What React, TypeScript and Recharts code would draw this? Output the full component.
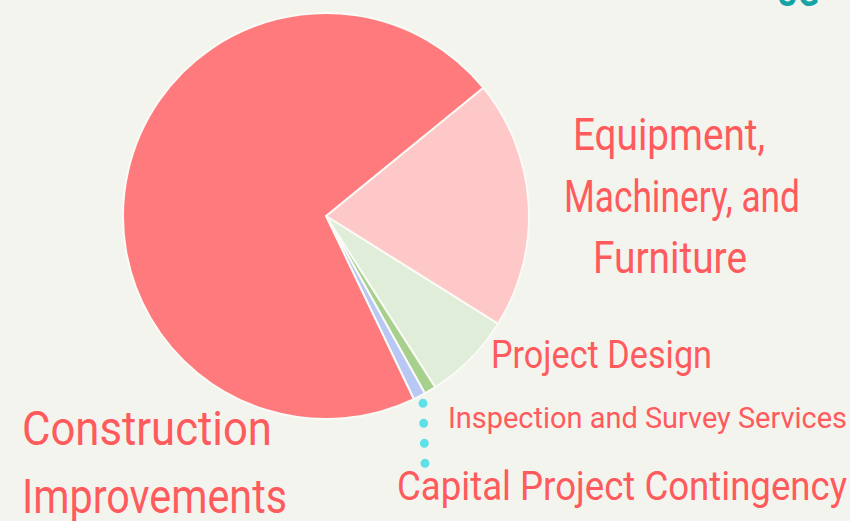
import React from 'react';
import { PieChart, Pie, Cell } from 'recharts';

const categories = [
  'Equipment, Machinery, and Furniture',
  'Project Design',
  'Inspection and Survey Services',
  'Capital Project Contingency',
  'Construction Improvements',
];
const values = [19.8, 7.05, 0.95, 0.97, 71.23];
const colors = ['#fec8c9', '#e0edd8', '#a7d08c', '#b8c7f3', '#ff7a7d'];

const labelLines: string[][] = [
  ['Equipment,', 'Machinery, and', 'Furniture'],
  ['Project Design'],
  ['Inspection and Survey Services'],
  ['Capital Project Contingency'],
  ['Construction', 'Improvements'],
];

const data = categories.map((name, i) => ({ name, value: values[i] }));

const TEXT = '#ff5a5c';
const FONT = 'Roboto, "Noto Sans", sans-serif';

// text placement: [x, baseline, fontSize, width]
const labelPlace: number[][][] = [
  [
    [573, 150, 45, 192],
    [564, 212, 45, 236],
    [593, 273, 45, 154],
  ],
  [[491, 368, 38, 221]],
  [[448, 428, 30, 399]],
  [[397, 500, 41, 450]],
  [
    [22, 445, 49, 250],
    [22, 513, 49, 265],
  ],
];

const RADIAN = Math.PI / 180;

const renderLabel = (props: any) => {
  const { index, cx, cy, midAngle, outerRadius } = props;
  const lines = labelLines[index];
  const place = labelPlace[index];
  let leader: React.ReactNode = null;
  if (index === 3) {
    const r = outerRadius + 8;
    const x0 = cx + r * Math.cos(-midAngle * RADIAN);
    const y0 = cy + r * Math.sin(-midAngle * RADIAN);
    leader = (
      <line
        x1={x0}
        y1={y0}
        x2={x0 + 2}
        y2={y0 + 61}
        stroke="#5de1e7"
        strokeWidth={9}
        strokeLinecap="round"
        strokeDasharray="0 20"
      />
    );
  }
  return (
    <g key={`lbl-${index}`}>
      {leader}
      {lines.map((t, i) => (
        <text
          key={i}
          x={place[i][0]}
          y={place[i][1]}
          fontSize={place[i][2]}
          textLength={place[i][3]}
          lengthAdjust="spacingAndGlyphs"
          fill={TEXT}
          fontFamily={FONT}
          textAnchor="start"
        >
          {t}
        </text>
      ))}
    </g>
  );
};

export default function App() {
  return (
    <div
      style={{
        position: 'absolute',
        left: 0,
        top: 0,
        width: 850,
        height: 521,
        background: '#f4f4ee',
        overflow: 'hidden',
      }}
    >
      <svg
        width={850}
        height={521}
        style={{ position: 'absolute', left: 0, top: 0 }}
      >
        <text
          x={777}
          y={6}
          fontSize={38}
          fontWeight={700}
          fill="#14a3a6"
          fontFamily={FONT}
          textLength={42}
          lengthAdjust="spacingAndGlyphs"
        >
          UG
        </text>
      </svg>
      <div style={{ position: 'absolute', left: 0, top: 0 }}>
        <PieChart
          width={850}
          height={521}
          margin={{ top: 0, right: 0, bottom: 0, left: 0 }}
        >
          <Pie
            data={data}
            dataKey="value"
            nameKey="name"
            cx={326}
            cy={216}
            outerRadius={203}
            innerRadius={0}
            startAngle={39.2}
            endAngle={-320.8}
            stroke="#fafaf6"
            strokeWidth={2}
            label={renderLabel}
            labelLine={false}
            isAnimationActive={false}
          >
            {data.map((d, i) => (
              <Cell key={d.name} fill={colors[i]} />
            ))}
          </Pie>
        </PieChart>
      </div>
    </div>
  );
}
